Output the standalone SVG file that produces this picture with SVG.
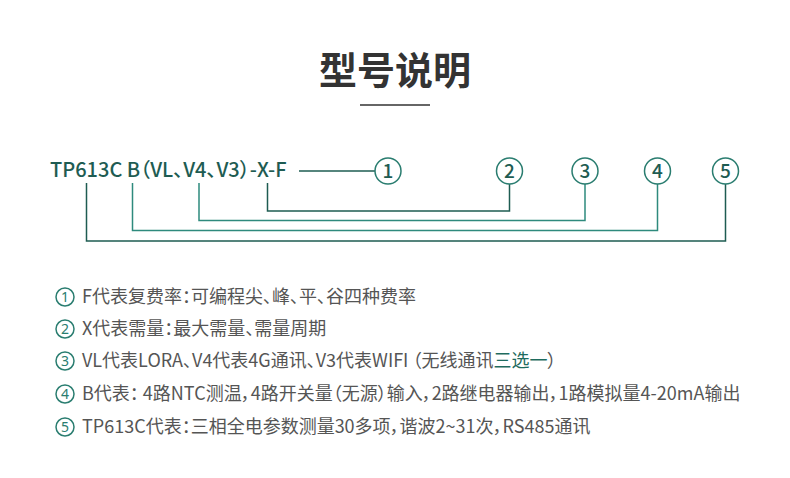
<svg xmlns="http://www.w3.org/2000/svg" width="790" height="478" viewBox="0 0 790 478">
<style>
.t{font-family:"Noto Sans CJK SC","Noto Sans",sans-serif;font-feature-settings:"palt"}
.title{font-size:38px;font-weight:bold;fill:#333}
.model{font-size:20px;font-weight:500;fill:#1e5c52}
.cn{font-size:19px;font-weight:500;fill:#1e5c52}
.cir{fill:#fff;stroke:#2a7d70;stroke-width:1.5}
.dk{fill:none;stroke:#1e5c52;stroke-width:1.5}
.lt{fill:none;stroke:#2e8a7d;stroke-width:1.5}
.row{font-size:18px;fill:#555}
.nc{fill:none;stroke:#2a7d70;stroke-width:1.5}
.num{font-size:14px;fill:#2a7d70;font-family:"Noto Sans","Noto Sans CJK SC",sans-serif}
.hl{fill:#1e6b5e}
</style>
<rect width="790" height="478" fill="#fff"/>
<g id="title">
<text class="t title" x="395" y="84" text-anchor="middle">型号说明</text>
<rect x="360" y="104" width="70" height="2" fill="#666"/>
</g>
<g id="model">
<text class="t model" x="50" y="177">TP613C B（VL、V4、V3）-X-F</text>
</g>
<g id="connectors">
<line class="dk" x1="299" y1="171" x2="375" y2="171"/>
<polyline class="dk" points="267.5,183 267.5,211 509.5,211 509.5,184"/>
<polyline class="lt" points="199,183 199,220.5 585,220.5 585,184"/>
<polyline class="lt" points="132.5,183 132.5,230.5 657.5,230.5 657.5,184"/>
<polyline class="dk" points="86.5,183 86.5,241 725.5,241 725.5,184"/>
</g>
<g id="n1"><circle class="cir" cx="388" cy="171" r="13"/><text class="t cn" x="388" y="178" text-anchor="middle">1</text></g>
<g id="n2"><circle class="cir" cx="509.5" cy="171" r="13"/><text class="t cn" x="509.5" y="178" text-anchor="middle">2</text></g>
<g id="n3"><circle class="cir" cx="585" cy="171" r="13"/><text class="t cn" x="585" y="178" text-anchor="middle">3</text></g>
<g id="n4"><circle class="cir" cx="657.5" cy="171" r="13"/><text class="t cn" x="657.5" y="178" text-anchor="middle">4</text></g>
<g id="n5"><circle class="cir" cx="725.5" cy="171" r="13"/><text class="t cn" x="725.5" y="178" text-anchor="middle">5</text></g>
<g id="legend">
<circle class="nc" cx="65" cy="297" r="9"/><text class="num" x="65" y="302" text-anchor="middle">1</text>
<text class="t row" x="82" y="303">F代表复费率：可编程尖、峰、平、谷四种费率</text>
<circle class="nc" cx="65" cy="329" r="9"/><text class="num" x="65" y="334" text-anchor="middle">2</text>
<text class="t row" x="82" y="335">X代表需量：最大需量、需量周期</text>
<circle class="nc" cx="65" cy="361" r="9"/><text class="num" x="65" y="366" text-anchor="middle">3</text>
<text class="t row" x="82" y="367">VL代表LORA、V4代表4G通讯、V3代表WIFI （无线通讯<tspan class="hl">三选一</tspan>）</text>
<circle class="nc" cx="65" cy="394" r="9"/><text class="num" x="65" y="399" text-anchor="middle">4</text>
<text class="t row" x="82" y="400">B代表： 4路NTC测温，4路开关量（无源）输入，2路继电器输出，1路模拟量4-20mA输出</text>
<circle class="nc" cx="65" cy="427" r="9"/><text class="num" x="65" y="432" text-anchor="middle">5</text>
<text class="t row" x="82" y="433">TP613C代表：三相全电参数测量30多项，谐波2~31次，RS485通讯</text>
</g>
</svg>
